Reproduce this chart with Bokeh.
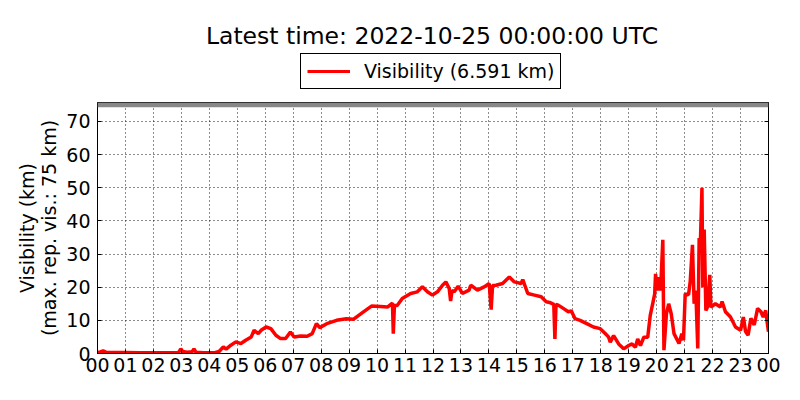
from bokeh.plotting import figure
from bokeh.layouts import column
from bokeh.models import (Range1d, FixedTicker, Span, Legend, LegendItem, LinearAxis, Label)
from bokeh.embed import file_html
from bokeh.resources import INLINE

# ---- data (hours since 00 UTC, visibility in km) ----
hours = [0.00, 0.10, 0.20, 0.30, 0.60, 1.00, 1.50, 2.00, 2.50, 2.90, 2.98, 3.05,
         3.20, 3.38, 3.45, 3.52, 3.80, 4.16, 4.35, 4.50, 4.60, 4.77, 4.95, 5.13,
         5.30, 5.50, 5.60, 5.75, 5.85, 6.03, 6.20, 6.38, 6.55, 6.73, 6.90, 7.03,
         7.27, 7.50, 7.68, 7.83, 7.95, 8.20, 8.55, 8.90, 9.15, 9.50, 9.80, 10.12,
         10.37, 10.55, 10.58, 10.62, 10.72, 10.90, 11.20, 11.44, 11.62, 11.80, 11.98, 12.16,
         12.34, 12.46, 12.58, 12.63, 12.68, 12.76, 12.90, 13.05, 13.29, 13.35, 13.59, 13.83,
         14.01, 14.08, 14.13, 14.25, 14.49, 14.73, 14.91, 15.15, 15.21, 15.39, 15.63, 15.87,
         16.05, 16.17, 16.32, 16.36, 16.40, 16.48, 16.66, 16.84, 16.95, 17.08, 17.26, 17.50,
         17.74, 17.98, 18.16, 18.28, 18.34, 18.46, 18.64, 18.82, 19.00, 19.12, 19.24, 19.32,
         19.42, 19.54, 19.68, 19.77, 19.87, 19.93, 19.96, 20.02, 20.08, 20.14, 20.22, 20.26,
         20.35, 20.43, 20.52, 20.62, 20.80, 20.90, 20.96, 21.02, 21.14, 21.20, 21.28, 21.34,
         21.40, 21.47, 21.52, 21.56, 21.62, 21.65, 21.70, 21.76, 21.82, 21.90, 21.94, 22.10,
         22.28, 22.34, 22.46, 22.64, 22.82, 23.00, 23.10, 23.18, 23.27, 23.37, 23.49, 23.61,
         23.73, 23.81, 23.90, 23.96, 24.00]
visibility = [0.3, 0.5, 0.8, 0.4, 0.3, 0.3, 0.2, 0.2, 0.2, 0.3, 1.4, 0.6,
              0.4, 0.5, 1.4, 0.4, 0.2, 0.2, 0.6, 2.0, 1.3, 2.5, 3.5, 3.0,
              4.0, 5.0, 7.0, 6.0, 7.0, 8.0, 7.5, 5.5, 4.5, 4.5, 6.5, 5.0,
              5.3, 5.2, 6.0, 9.0, 7.8, 9.0, 10.0, 10.5, 10.3, 12.5, 14.3, 14.2,
              14.0, 15.2, 6.0, 14.5, 14.5, 16.6, 18.1, 18.6, 20.1, 18.6, 17.6, 18.6,
              20.6, 21.6, 19.6, 15.8, 19.0, 18.6, 20.3, 18.1, 19.1, 20.6, 19.1, 20.1,
              21.1, 13.2, 20.5, 20.6, 21.1, 23.1, 21.6, 21.1, 22.3, 18.1, 17.6, 17.1,
              15.6, 15.4, 14.8, 4.4, 14.8, 14.6, 13.6, 12.6, 12.8, 10.5, 10.0, 9.0,
              8.0, 7.5, 6.0, 5.0, 3.4, 5.4, 2.9, 1.4, 2.4, 2.9, 1.9, 4.4,
              2.4, 4.9, 4.9, 11.5, 15.5, 18.0, 24.0, 19.0, 23.0, 19.0, 34.3, 1.0,
              12.0, 15.0, 12.0, 6.0, 3.0, 6.0, 4.0, 18.0, 17.7, 21.7, 32.8, 15.0,
              19.0, 1.5, 34.8, 32.3, 50.0, 20.0, 37.4, 13.0, 14.0, 23.7, 14.0, 15.0,
              14.0, 15.7, 12.6, 11.0, 8.0, 7.0, 11.0, 6.6, 5.5, 10.6, 8.6, 13.6,
              12.6, 11.0, 13.0, 9.0, 6.591]

hour_ticks = list(range(0, 25))
hour_labels = ["%02d" % (h % 24) for h in hour_ticks]
y_ticks = [0, 10, 20, 30, 40, 50, 60, 70]
max_rep_vis = 75
latest_value = 6.591
title_text = "Latest time: 2022-10-25 00:00:00 UTC"
series_label = "Visibility (%.3f km)" % latest_value
y_label = "Visibility (km)\n(max. rep. vis.: %d km)" % max_rep_vis

FONT = "DejaVu Sans"
LEFT, RIGHT = 97, 24
FRAME_W, FRAME_H = 671, 251
TOTAL_W = LEFT + FRAME_W + RIGHT
HEAD_H = 102
LINE_COLOR = "#ff0000"

# ---------------- header: title + legend ----------------
head = figure(frame_width=TOTAL_W, frame_height=HEAD_H, output_backend="svg",
              toolbar_location=None, x_axis_type=None, y_axis_type=None,
              x_range=Range1d(0, 24), y_range=Range1d(1000, 1001),
              min_border=0, outline_line_color=None)
head.grid.visible = False

head.add_layout(Label(x=334.5, y=HEAD_H - 35, x_units="screen", y_units="screen",
                      text=title_text, text_align="center", text_baseline="middle",
                      text_font=FONT, text_font_size="23.5px", text_color="black"))

# same series, drawn outside the header's view; only its legend sample shows
legend_proxy = head.line(hours, visibility, line_color=LINE_COLOR, line_width=3)
legend = Legend(items=[LegendItem(label=series_label, renderers=[legend_proxy])],
                location=(300, HEAD_H - 89), orientation="horizontal")
legend.label_text_font = FONT
legend.label_text_font_size = "19px"
legend.label_text_color = "black"
legend.border_line_color = "black"
legend.border_line_width = 1
legend.border_line_alpha = 1
legend.background_fill_color = "white"
legend.background_fill_alpha = 1
legend.glyph_width = 43
legend.glyph_height = 20
legend.label_standoff = 14
legend.padding = 6
legend.margin = 0
legend.spacing = 0
head.add_layout(legend)

# ---------------- main chart ----------------
p = figure(frame_width=FRAME_W, frame_height=FRAME_H, output_backend="svg",
           toolbar_location=None,
           x_range=Range1d(0, 24), y_range=Range1d(0, 75.7),
           min_border_left=LEFT, min_border_right=RIGHT, min_border_bottom=38,
           min_border_top=0)

p.outline_line_color = "black"
p.outline_line_width = 1
p.background_fill_color = "white"

# limit line at the max reportable visibility
p.add_layout(Span(location=max_rep_vis, dimension="width", line_color="#888888",
                  line_width=5))

r = p.line(hours, visibility, line_color=LINE_COLOR, line_width=3.5)

for ax in (p.xaxis[0], p.yaxis[0]):
    ax.major_label_text_font = FONT
    ax.major_label_text_font_size = "19px"
    ax.major_label_text_color = "black"
    ax.major_tick_in = 4
    ax.major_tick_out = 0
    ax.minor_tick_line_color = None
    ax.axis_line_color = "black"
    ax.major_tick_line_color = "black"

p.xaxis.ticker = FixedTicker(ticks=hour_ticks)
p.xaxis.major_label_overrides = {h: lab for h, lab in zip(hour_ticks, hour_labels)}
p.xaxis.major_label_standoff = 4
p.yaxis.ticker = FixedTicker(ticks=y_ticks)
p.yaxis.major_label_standoff = 7
p.yaxis.axis_label = y_label
p.yaxis.axis_label_text_font = FONT
p.yaxis.axis_label_text_font_size = "19px"
p.yaxis.axis_label_text_font_style = "normal"
p.yaxis.axis_label_text_color = "black"
p.yaxis.axis_label_text_line_height = 1.0
p.yaxis.axis_label_standoff = 3

# ticks on the right side, pointing inward, without labels
right_ax = LinearAxis(ticker=FixedTicker(ticks=y_ticks),
                      major_label_overrides={t: "" for t in y_ticks},
                      major_tick_in=4, major_tick_out=0, minor_tick_line_color=None,
                      major_label_standoff=0)
p.add_layout(right_ax, "right")

for g in (p.xgrid[0], p.ygrid[0]):
    g.grid_line_color = "black"
    g.grid_line_dash = "1 3"
    g.grid_line_width = 1
    g.grid_line_alpha = 0.9
p.xgrid.ticker = FixedTicker(ticks=hour_ticks)
p.ygrid.ticker = FixedTicker(ticks=y_ticks)

layout = column(head, p, spacing=0)
open("out.html", "w").write(file_html(layout, INLINE))
